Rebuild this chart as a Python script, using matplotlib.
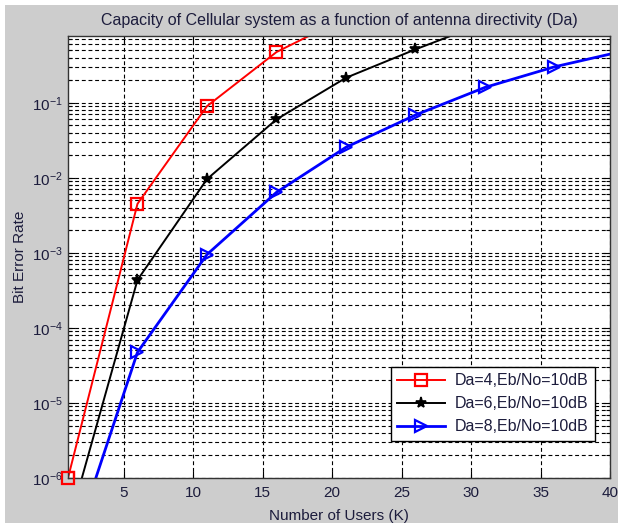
import matplotlib
matplotlib.use("Agg")
import matplotlib.pyplot as plt
from matplotlib.patches import Rectangle
from matplotlib.ticker import LogLocator, FixedLocator, NullFormatter

plt.rcParams['font.family'] = ['Liberation Sans', 'DejaVu Sans']
plt.rcParams['mathtext.fontset'] = 'custom'
plt.rcParams['mathtext.rm'] = 'Liberation Sans'
plt.rcParams['mathtext.it'] = 'Liberation Sans:italic'

# ---- data ----
users_red = [1, 6, 11, 16, 21]
ber_red = [1.0e-6, 4.5e-3, 0.090, 0.473, 1.37]

users_black = [1, 6, 11, 16, 21, 26, 31]
ber_black = [2.2e-7, 4.35e-4, 9.6e-3, 0.060, 0.215, 0.514, 1.16]

users_blue = [1, 6, 11, 16, 21, 26, 31, 36, 41]
ber_blue = [7.6e-8, 4.74e-5, 9.5e-4, 6.4e-3, 0.0255, 0.0686, 0.160, 0.301, 0.49]

labels = ['Da=4,Eb/No=10dB', 'Da=6,Eb/No=10dB', 'Da=8,Eb/No=10dB']
x_ticks = [5, 10, 15, 20, 25, 30, 35, 40]
title = 'Capacity of Cellular system as a function of antenna directivity (Da)'
xlabel = 'Number of Users (K)'
ylabel = 'Bit Error Rate'

txt = '#1c1c3c'
W, H = 618, 523
fig = plt.figure(figsize=(W / 100, H / 100), dpi=100, facecolor='white')
fig.patches.append(Rectangle((5 / W, 0), 1, 1 - 5 / H, transform=fig.transFigure,
                             facecolor='#cdcdcd', edgecolor='none', zorder=-10))

ax = fig.add_axes([68 / W, 1 - 478 / H, (610 - 68) / W, (478 - 36) / H])
ax.set_facecolor('white')

l1, = ax.plot(users_red, ber_red, color='red', lw=1.4, marker='s', ms=9,
              mfc='none', mec='red', mew=1.6)
l2, = ax.plot(users_black, ber_black, color='black', lw=1.4, marker='*', ms=8,
              mfc='black', mec='black', mew=1.2)
l3, = ax.plot(users_blue, ber_blue, color='blue', lw=2.0, marker='>', ms=9,
              mfc='none', mec='blue', mew=1.6)
# marker sitting on the axes edge is shown unclipped
ax.plot(users_red[:1], ber_red[:1], ls='none', marker='s', ms=9, mfc='none',
        mec='red', mew=1.6, clip_on=False, zorder=5)

ax.set_yscale('log')
ax.set_xlim(1, 40)
ax.set_ylim(1e-6, 0.775)
ax.xaxis.set_major_locator(FixedLocator(x_ticks))
ax.yaxis.set_major_locator(LogLocator(base=10, numticks=20))
ax.yaxis.set_minor_locator(LogLocator(base=10, subs=range(2, 10), numticks=100))
ax.yaxis.set_minor_formatter(NullFormatter())

dash = (0, (3.5, 2.5))
ax.grid(True, which='major', axis='both', color='black', lw=0.8, linestyle=dash)
ax.grid(True, which='minor', axis='y', color='black', lw=0.8, linestyle=dash)
ax.set_axisbelow(True)

ax.tick_params(which='both', direction='in', top=True, right=True,
               labelsize=11, colors='black', labelcolor=txt)
ax.tick_params(which='major', length=5, width=0.8)
ax.tick_params(which='minor', length=3, width=0.8)
ax.tick_params(axis='x', pad=6)
for s in ax.spines.values():
    s.set_color('#333333')
    s.set_linewidth(1.0)

ax.set_title(title, fontsize=11.5, color=txt, pad=8)
ax.set_xlabel(xlabel, fontsize=11, color=txt, labelpad=6)
ax.set_ylabel(ylabel, fontsize=11, color=txt, labelpad=4)

leg = ax.legend([l1, l2, l3], labels, loc='lower right', fontsize=11.5,
                frameon=True, fancybox=False, edgecolor='black', framealpha=1,
                borderaxespad=0.0, bbox_to_anchor=(594.7 / W, 1 - 440.7 / H),
                bbox_transform=fig.transFigure, handlelength=3.0,
                labelspacing=0.5, borderpad=0.4, handletextpad=0.6)
leg.get_frame().set_linewidth(1.0)
for t in leg.get_texts():
    t.set_color(txt)

fig.savefig('out.png', dpi=100, facecolor=fig.get_facecolor())
